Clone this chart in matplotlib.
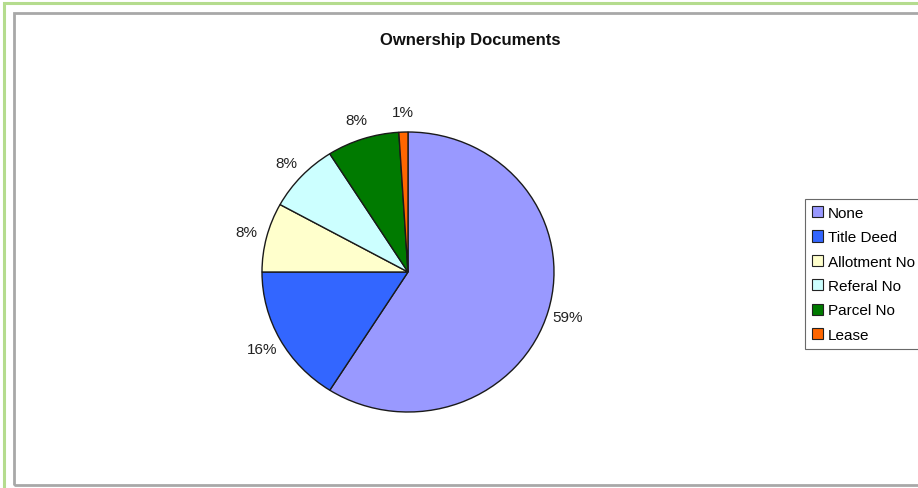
import matplotlib
matplotlib.use("Agg")
from matplotlib import pyplot as plt
from matplotlib.patches import Rectangle

plt.rcParams['font.family'] = ['Liberation Sans', 'DejaVu Sans']

# ownership documents, percent of respondents
categories = ['None', 'Title Deed', 'Allotment No', 'Referal No', 'Parcel No', 'Lease']
shares = [59, 16, 8, 8, 8, 1]
colors = ['#9999ff', '#3366ff', '#ffffcc', '#ccffff', '#007a00', '#ff6600']

W, H = 918, 489
fig = plt.figure(figsize=(W / 100, H / 100), dpi=100)
fig.patch.set_facecolor('white')

# outer green frame and inner grey chart border
fig.patches.append(Rectangle((4 / W, -0.01), 1.1, (H - 4) / H + 0.01, transform=fig.transFigure,
                             fill=False, edgecolor='#b5dc8e', linewidth=2.2))
fig.patches.append(Rectangle((14 / W, 1 - 486 / H), 1.1, (486 - 14) / H, transform=fig.transFigure,
                             fill=False, edgecolor='#a8a8a8', linewidth=2))

fig.text(470 / W, 1 - 40 / H, 'Ownership Documents', ha='center', va='center',
         fontsize=12, fontweight='bold', color='#111111')

# pie axes: centre ~ (408, 273), radii ~ 146 x 140 px
cx, cy, rx, ry = 408, 273, 146, 140
ax = fig.add_axes([(cx - rx) / W, (H - cy - ry) / H, 2 * rx / W, 2 * ry / H])
wedges, texts, autotexts = ax.pie(
    shares, colors=colors, startangle=90, counterclock=False,
    autopct='%.0f%%', pctdistance=1.14,
    wedgeprops=dict(edgecolor='#1a1a1a', linewidth=1.0),
    textprops=dict(fontsize=11, color='#222222'))
for t in autotexts:
    t.set_clip_on(False)
ax.set_aspect('auto')
ax.set_xlim(-1, 1)
ax.set_ylim(-1, 1)
ax.axis('off')

leg = fig.legend(wedges, categories, loc='upper left',
                 bbox_to_anchor=(805 / W, 1 - 200 / H),
                 frameon=True, fancybox=False, fontsize=11,
                 handlelength=0.75, handleheight=0.75, handletextpad=0.3,
                 labelspacing=0.68, borderpad=0.45, borderaxespad=0)
leg.get_frame().set_edgecolor('#444444')
leg.get_frame().set_linewidth(0.8)
for h in leg.legend_handles:
    h.set_edgecolor('#222222')
    h.set_linewidth(0.8)

fig.savefig('out.png', dpi=100)
